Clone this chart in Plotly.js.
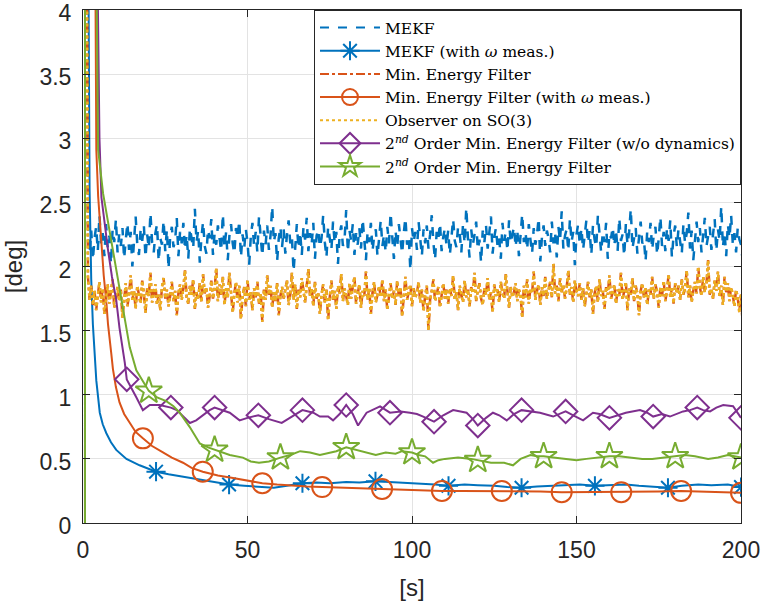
<!DOCTYPE html>
<html>
<head>
<meta charset="utf-8">
<script src="https://cdn.plot.ly/plotly-3.0.1.min.js"></script>
<style>
html,body{margin:0;padding:0;background:#fff;}
#chart{width:763px;height:603px;}
</style>
</head>
<body>
<div id="chart"></div>
<script>
// ---------------- DATA ----------------
const legendNames = [
  "MEKF",
  "MEKF (with <i>ω</i> meas.)",
  "Min. Energy Filter",
  "Min. Energy Filter (with <i>ω</i> meas.)",
  "Observer on SO(3)",
  "2<sup><i>nd</i></sup> Order Min. Energy Filter (w/o dynamics)",
  "2<sup><i>nd</i></sup> Order Min. Energy Filter"
];
const xTicks = [0, 50, 100, 150, 200];
const yTicks = [0, 0.5, 1, 1.5, 2, 2.5, 3, 3.5, 4];
const yTickLabels = ["0", "0.5", "1", "1.5", "2", "2.5", "3", "3.5", "4"];

// noisy series sampled every 0.5 s starting at t = 1 s
const noiseT0 = 1.0, noiseDt = 0.5;
const mekfVals = [6.0,
2.35,2.10,2.28,2.05,2.22,2.31,2.12,2.40,2.18,2.26,2.08,2.33,2.15,2.24,2.02,2.29,2.19,2.37,2.11,2.25,
2.16,2.30,2.06,2.21,2.34,2.13,2.27,2.00,2.23,2.39,2.17,2.09,2.28,2.20,2.32,2.07,2.25,2.14,2.42,2.19,
2.11,2.26,2.33,2.04,2.22,2.17,2.36,2.12,2.29,1.98,2.24,2.31,2.15,2.20,2.38,2.08,2.27,2.18,2.34,2.13,
2.25,2.06,2.30,2.21,2.14,2.45,2.19,2.28,2.03,2.23,2.35,2.16,2.10,2.29,2.22,2.37,2.09,2.26,2.17,2.32,
2.20,2.12,2.41,2.15,2.27,2.05,2.24,2.33,2.18,2.10,2.30,2.22,2.36,2.07,2.25,2.14,2.29,2.19,2.01,2.23,
2.34,2.16,2.27,2.11,2.39,2.21,2.08,2.28,2.17,2.32,2.13,2.24,2.47,2.19,2.26,2.04,2.22,2.31,2.15,2.29,
2.10,2.25,2.36,2.18,2.23,1.96,2.20,2.33,2.14,2.27,2.09,2.30,2.21,2.38,2.12,2.26,2.17,2.34,2.06,2.24,
2.29,2.15,2.22,2.40,2.19,2.07,2.31,2.23,2.13,2.35,2.18,2.27,2.02,2.25,2.32,2.16,2.21,2.44,2.11,2.28,
2.20,2.33,2.09,2.26,2.17,2.30,2.14,2.37,2.22,2.05,2.27,2.19,2.34,2.12,2.24,2.29,2.08,2.21,2.36,2.16,
2.25,2.11,2.31,2.18,2.42,2.23,2.06,2.28,2.15,2.33,2.20,2.10,2.26,2.38,2.17,2.24,1.97,2.30,2.19,2.27,
2.13,2.35,2.22,2.08,2.29,2.18,2.32,2.14,2.25,2.40,2.19,2.05,2.27,2.21,2.34,2.12,2.23,2.30,2.16,2.28,
2.09,2.24,2.37,2.20,2.15,2.31,2.26,2.11,2.33,2.18,2.46,2.22,2.07,2.29,2.17,2.25,2.35,2.13,2.21,2.03,
2.28,2.19,2.32,2.14,2.26,2.39,2.10,2.23,2.30,2.16,2.22,2.06,2.34,2.20,2.27,2.12,2.36,2.18,2.25,2.31,
2.15,2.29,2.08,2.24,2.41,2.19,2.27,2.13,2.33,2.21,2.10,2.30,2.17,2.25,2.38,2.04,2.23,2.32,2.16,2.28,
2.22,2.11,2.35,2.18,2.26,2.07,2.31,2.20,2.43,2.14,2.24,2.29,2.12,2.37,2.19,2.27,2.01,2.25,2.33,2.17,
2.30,2.13,2.23,2.36,2.18,2.28,2.09,2.32,2.21,2.15,2.40,2.24,2.11,2.27,2.19,2.34,2.06,2.26,2.22,2.31,
2.16,2.29,2.12,2.38,2.20,2.25,2.08,2.33,2.17,2.27,2.45,2.14,2.23,2.30,2.10,2.26,2.35,2.18,2.21,2.04,
2.28,2.19,2.34,2.13,2.25,2.31,2.09,2.22,2.39,2.16,2.27,2.12,2.30,2.20,2.36,2.07,2.24,2.32,2.15,2.29,
2.21,2.10,2.33,2.18,2.26,2.42,2.14,2.28,2.05,2.23,2.35,2.19,2.30,2.11,2.27,2.38,2.16,2.24,2.31,2.13,
2.25,2.37,2.12,2.29,2.20,2.47,2.15,2.27,2.08,2.33,2.22,2.40,2.18,2.26,2.11,2.30,2.21,2.17,2.05,2.20];

const minEnergyVals = [6.0,
1.92,1.74,1.85,1.70,1.81,1.66,1.79,1.88,1.72,1.83,1.63,1.77,1.86,1.71,1.80,1.90,1.68,1.76,1.84,1.73,
1.82,1.60,1.75,1.87,1.69,1.78,1.93,1.74,1.81,1.67,1.85,1.76,1.71,1.89,1.79,1.64,1.83,1.77,1.95,1.72,
1.80,1.86,1.70,1.78,1.66,1.84,1.91,1.75,1.82,1.69,1.77,1.88,1.73,1.81,1.62,1.79,1.86,1.74,1.83,1.97,
1.76,1.71,1.85,1.78,1.90,1.67,1.80,1.74,1.87,1.72,1.94,1.79,1.84,1.68,1.77,1.89,1.75,1.82,1.99,1.73,
1.86,1.78,1.92,1.70,1.83,1.76,1.95,1.81,1.64,1.79,1.88,1.72,1.85,1.59,1.77,1.84,1.69,1.90,1.74,1.80,
1.66,1.83,1.76,1.88,1.71,1.79,1.57,1.82,1.74,1.93,1.78,1.85,1.68,1.80,1.73,1.87,1.62,1.77,1.84,1.75,
1.81,1.89,1.70,1.78,1.95,1.74,1.86,1.67,1.82,1.76,1.91,1.79,1.72,1.85,1.98,1.77,1.83,1.69,1.88,1.75,
1.80,1.63,1.78,1.86,1.72,1.82,1.58,1.76,1.89,1.74,1.81,1.67,1.85,1.79,1.94,1.73,1.83,1.77,1.70,1.87,
1.75,1.84,1.92,1.71,1.79,1.86,1.68,1.81,1.77,1.96,1.74,1.83,1.63,1.80,1.88,1.72,1.78,1.85,1.76,1.90,
1.73,1.82,1.66,1.79,1.87,1.75,1.81,1.70,1.89,1.77,1.84,1.61,1.78,1.92,1.74,1.80,1.86,1.69,1.83,1.76,
1.79,1.88,1.72,1.82,1.65,1.77,1.85,1.50,1.74,1.81,1.90,1.73,1.79,1.84,1.68,1.80,1.87,1.75,1.82,1.71,
1.83,1.77,1.93,1.74,1.80,1.66,1.85,1.78,1.72,1.89,1.76,1.82,1.69,1.84,1.79,1.95,1.73,1.81,1.87,1.75,
1.70,1.83,1.78,1.91,1.74,1.80,1.64,1.86,1.77,1.82,1.72,1.88,1.79,1.75,1.94,1.81,1.68,1.84,1.76,1.80,
1.87,1.73,1.82,1.78,1.60,1.85,1.76,1.90,1.71,1.83,1.79,1.96,1.74,1.81,1.86,1.70,1.84,1.77,1.92,1.75,
1.82,1.88,1.76,2.02,1.79,1.85,1.73,1.91,1.80,1.86,1.75,1.83,1.97,1.78,1.84,1.72,1.89,1.81,1.77,1.87,
1.74,1.83,1.69,1.80,1.88,1.76,1.82,1.63,1.79,1.85,1.72,1.90,1.77,1.81,1.67,1.84,1.78,1.93,1.75,1.80,
1.86,1.71,1.82,1.77,1.95,1.74,1.80,1.88,1.66,1.83,1.78,1.91,1.73,1.85,1.79,1.62,1.81,1.87,1.76,1.84,
1.70,1.82,1.78,1.92,1.75,1.86,1.80,1.68,1.84,1.77,1.89,1.73,1.81,1.94,1.76,1.83,1.71,1.87,1.79,1.85,
1.74,1.90,1.78,1.83,1.97,1.76,1.85,1.72,1.81,1.88,1.79,2.00,1.84,1.77,1.92,1.80,1.86,2.05,1.78,1.83,
1.75,1.89,1.81,1.96,1.77,1.85,1.70,1.92,1.80,1.87,1.73,1.84,1.78,1.69,1.82,1.76,1.64,1.79,1.55,1.72];
// the observer curve lies on top of the min. energy filter curve in the picture
const observerVals = minEnergyVals.slice();

// MEKF with omega measurements
const mekfWT = [1.2,1.5,2.0,2.5,3.0,3.5,4.05,5.1,6.0,7.1,8.5,10.1,13.2,17.2,22.2,26.0,30.4,35.0,40.5,44.4,49,54,58,62,66.7,71,75,80,84,88.9,93,97,102,107,111.1,116,120,125,129,133.3,138,143,147,151,155.6,160,165,169,173,177.8,182,187,191,196,200];
const mekfWV = [8.0,5.0,2.6,1.9,1.55,1.3,1.11,0.86,0.77,0.70,0.63,0.57,0.50,0.45,0.40,0.38,0.36,0.34,0.32,0.30,0.29,0.28,0.275,0.29,0.31,0.315,0.31,0.32,0.315,0.325,0.32,0.31,0.305,0.30,0.29,0.30,0.295,0.29,0.28,0.275,0.285,0.29,0.295,0.30,0.29,0.295,0.30,0.29,0.285,0.275,0.29,0.30,0.295,0.30,0.28];
const mekfWMarkT = [22.2,44.4,66.7,88.9,111.1,133.3,155.6,177.8,200];

// Min. energy filter with omega measurements
const minEWT = [3.4,3.75,4.05,4.6,5.6,6.3,7.1,7.6,8.6,9.1,10,11.1,12.5,14.2,16,18.2,21,24.3,27,30.4,33,36.4,41,45.6,50,54.5,59,64,68,72.7,78,84,90.9,97,103,109.1,115,121,127.3,133,139,145.5,151,157,163.6,169,175,181.8,187,193,200];
const minEWV = [6.0,4.0,2.91,2.55,2.13,1.93,1.72,1.55,1.32,1.20,1.06,0.94,0.85,0.78,0.71,0.66,0.60,0.55,0.51,0.47,0.43,0.40,0.37,0.35,0.33,0.31,0.30,0.29,0.285,0.28,0.275,0.27,0.265,0.26,0.255,0.25,0.25,0.25,0.25,0.245,0.245,0.24,0.24,0.24,0.24,0.245,0.245,0.25,0.245,0.24,0.235];
const minEWMarkT = [18.2,36.4,54.5,72.7,90.9,109.1,127.3,145.5,163.6,181.8,200];

// 2nd order min. energy filter (w/o dynamics)
const so2ndT = [0.6,0.7,4.4,5.0,5.6,6.5,7.6,8.8,10.1,11.1,12.2,12.7,13.3,14.2,16.2,18.2,20.3,23.3,26.7,28.5,30.4,32.5,34.4,36.5,38.5,40,42.5,44.6,47.6,50,53.3,56.5,60.4,63.5,66.7,70,72,74.5,76,78,80,82,83.6,86.2,88,90.3,93.3,96.5,99.4,101.5,103.4,106.7,109.5,112.5,116.6,118.5,120,122.5,124.6,126.5,128.8,131,133.3,136,138.9,142.9,146.7,149,152,155,157,160,162.5,165,169.3,171.5,173.3,176,178.4,182.4,184.5,186.7,188.5,190.6,192.5,194.6,197.6,200];
const so2ndV = [0,30,4.3,3.0,2.54,2.35,2.13,1.92,1.74,1.52,1.35,1.25,1.12,1.08,0.98,0.88,0.92,0.92,0.90,0.88,0.83,0.78,0.80,0.84,0.88,0.90,0.88,0.86,0.80,0.82,0.84,0.81,0.78,0.83,0.88,0.86,0.83,0.83,0.80,0.85,0.92,0.85,0.76,0.86,0.88,0.91,0.86,0.87,0.86,0.85,0.83,0.79,0.84,0.88,0.86,0.81,0.76,0.82,0.86,0.84,0.80,0.85,0.88,0.87,0.86,0.83,0.87,0.84,0.80,0.86,0.85,0.82,0.84,0.86,0.88,0.86,0.83,0.85,0.83,0.87,0.88,0.90,0.88,0.87,0.90,0.92,0.91,0.82];
const so2ndMarkT = [13.3,26.7,40,53.3,66.7,80,93.3,106.7,120,133.3,146.7,160,173.3,186.7,200];

// 2nd order min. energy filter
const mef2T = [0.6,0.7,4.0,4.6,6.1,7.6,9.1,10.3,11.6,13.2,14.2,16.2,18.2,20,22.5,25.3,27.5,29.4,32.4,35.5,38,40,42.5,44.6,48.6,51,53.5,56.5,60,63,66,69,72,75,77,80,83,86,89,92,95,97,100,102,104,106.4,108,110,114,118,120,122,124,128,130.7,133,136,138,140,143,146,150,153,156,160,163,166,170,173,176,180,183,186,190,193,196,198,200];
const mef2V = [0,30,4.5,2.91,2.57,2.35,2.13,1.95,1.74,1.50,1.37,1.19,1.10,1.03,0.98,0.95,0.91,0.86,0.75,0.62,0.59,0.57,0.55,0.53,0.51,0.48,0.47,0.48,0.51,0.53,0.56,0.55,0.53,0.55,0.56,0.59,0.57,0.55,0.53,0.55,0.54,0.56,0.55,0.53,0.52,0.47,0.49,0.50,0.51,0.50,0.49,0.48,0.47,0.47,0.45,0.50,0.53,0.52,0.52,0.51,0.50,0.49,0.50,0.51,0.52,0.52,0.51,0.50,0.50,0.51,0.52,0.53,0.52,0.50,0.51,0.53,0.52,0.51];
const mef2MarkT = [20,40,60,80,100,120,140,160,180,200];

// ---------------- STYLES ----------------
const C = {blue:"#0072BD", orange:"#D95319", yellow:"#EDB120", purple:"#7E2F8E", green:"#77AC30"};
const LW = 2;
const LWN = 2.5;

function noiseT(vals){ return vals.map((_, i) => noiseT0 + i * noiseDt); }
function pick(T, V, marks){ return marks.map(m => V[T.indexOf(m)]); }

const series = [
  {name:legendNames[0], t:noiseT(mekfVals), v:mekfVals, color:C.blue, dash:"dash", w:LWN},
  {name:legendNames[1], t:mekfWT, v:mekfWV, color:C.blue, dash:"solid", w:LW, marks:mekfWMarkT, sym:"asterisk-open", size:16},
  {name:legendNames[2], t:noiseT(minEnergyVals), v:minEnergyVals, color:C.orange, dash:"dashdot", w:LWN},
  {name:legendNames[3], t:minEWT, v:minEWV, color:C.orange, dash:"solid", w:LW, marks:minEWMarkT, sym:"circle-open", size:20},
  {name:legendNames[4], t:noiseT(observerVals), v:observerVals, color:C.yellow, dash:"dot", w:LWN},
  {name:legendNames[5], t:so2ndT, v:so2ndV, color:C.purple, dash:"solid", w:LW, marks:so2ndMarkT, sym:"diamond-open", size:18},
  {name:legendNames[6], t:mef2T, v:mef2V, color:C.green, dash:"solid", w:LW, marks:mef2MarkT, sym:"star-open", size:20}
];

const traces = [];
series.forEach(s => {
  traces.push({x:s.t, y:s.v, type:"scatter", mode:"lines", showlegend:false, hoverinfo:"skip",
    line:{color:s.color, width:s.w, dash:s.dash}});
  if (s.marks) {
    traces.push({x:s.marks, y:pick(s.t, s.v, s.marks), type:"scatter", mode:"markers", showlegend:false, hoverinfo:"skip",
      marker:{symbol:s.sym, size:s.size, color:s.color, line:{color:s.color, width:2}}});
  }
});
series.forEach(s => {
  const tr = {x:[null], y:[null], type:"scatter", name:s.name, mode: s.marks ? "lines+markers" : "lines",
    line:{color:s.color, width:LW, dash:s.dash}};
  if (s.marks) tr.marker = {symbol:s.sym, size:s.size, color:s.color, line:{color:s.color, width:2}};
  traces.push(tr);
});

const axisCommon = {
  showgrid:true, gridcolor:"#e3e3e3", gridwidth:1,
  zeroline:false, showline:true, linecolor:"#262626", linewidth:1, mirror:"ticks",
  ticks:"inside", ticklen:7, tickcolor:"#262626", tickwidth:1,
  tickfont:{family:"Liberation Sans, Arial, sans-serif", size:23, color:"#262626"},
  ticklabeloverflow:"allow",
  fixedrange:true
};

const layout = {
  width:763, height:603,
  margin:{l:83, r:22, t:10, b:80},
  paper_bgcolor:"#fff", plot_bgcolor:"#fff",
  showlegend:true,
  xaxis:Object.assign({}, axisCommon, {
    range:[0,200], tickvals:xTicks, ticklabelstandoff:6,
    title:{text:"[s]", font:{family:"Liberation Sans, Arial, sans-serif", size:24, color:"#262626"}, standoff:17}
  }),
  yaxis:Object.assign({}, axisCommon, {
    range:[0,4.0001], tickvals:yTicks, ticktext:yTickLabels, ticklabelstandoff:6, ticklabelshift:3,
    title:{text:"[deg]", font:{family:"Liberation Sans, Arial, sans-serif", size:24, color:"#262626"}, standoff:10}
  }),
  legend:{
    x:1, xanchor:"right", y:1, yanchor:"top",
    bgcolor:"#fff", bordercolor:"#262626", borderwidth:1,
    font:{family:"DejaVu Serif, serif", size:15.5, color:"#000"},
    itemwidth:60, tracegroupgap:0
  }
};

Plotly.newPlot("chart", traces, layout, {staticPlot:true, displayModeBar:false});
</script>
</body>
</html>
